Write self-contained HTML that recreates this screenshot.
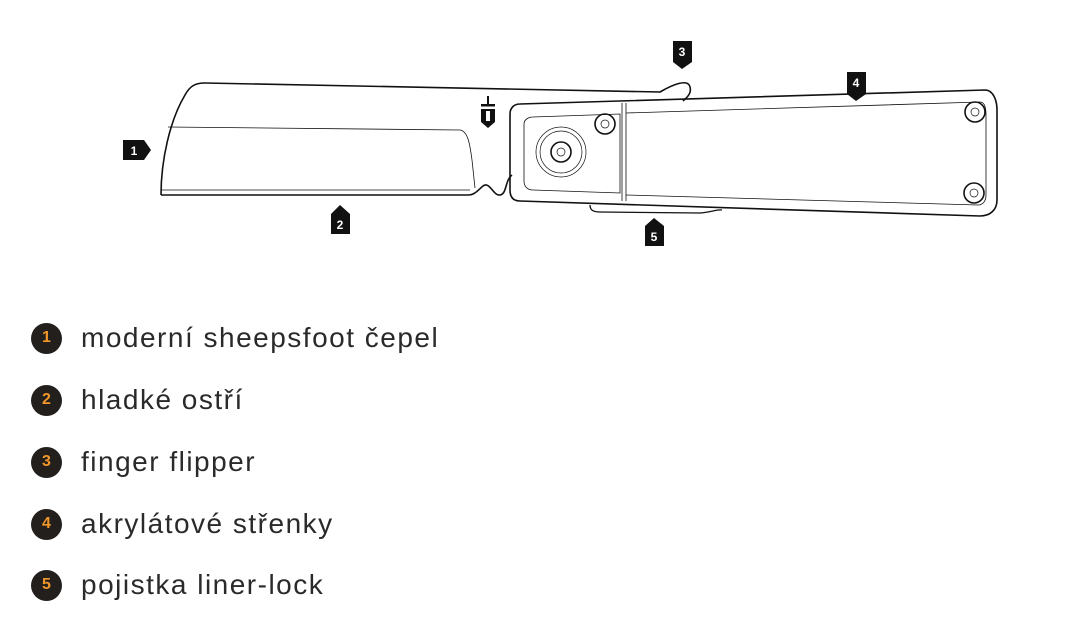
<!DOCTYPE html>
<html><head><meta charset="utf-8"><style>
html,body{margin:0;padding:0;background:#fff;width:1073px;height:635px;overflow:hidden}
.li{position:absolute;left:31px;height:32px;display:flex;align-items:center;font-family:"Liberation Sans",sans-serif}
.c{width:31px;height:31px;border-radius:50%;background:#231f1c;color:#f0962a;font-weight:bold;font-size:16px;display:flex;align-items:center;justify-content:center}
.t{margin-left:19px;font-size:28px;color:#2a2a2a;letter-spacing:1.5px}
</style></head><body>
<svg width="1073" height="300" style="position:absolute;left:0;top:0" fill="none" stroke="#111" stroke-width="1.6">
<path d="M161,195 C161,160 170,120 185,95 C190,86 195,83 205,83 L660,92 C672,85 688,78 690,87 C692,94 686,98 683,101"/>
<path d="M161,195 L468,195 C475,195 478,190 483,186 C490,181 493,196 500,195 C507,194 505,180 512,175"/>
<path d="M168,127 L460,130 C468,131 470,145 472,160 L475,188" stroke-width="0.8"/>
<path d="M161,190 L470,190" stroke-width="0.8"/>
<path d="M520,104 L985,90 C993,90 997,100 997,110 L997,200 C997,210 990,216 980,216 L520,201 C513,201 510,197 510,190 L510,114 C510,108 514,104 520,104 Z"/>
<path d="M533,117 L620,114 L620,193 L533,190 C527,190 524,186 524,181 L524,124 C524,120 528,117 533,117 Z" stroke-width="0.8"/>
<path d="M622,103 L622,201 M626,103 L626,201" stroke-width="0.8"/>
<path d="M626,113 L980,102 C985,102 986,108 986,115 L986,195 C986,202 982,205 978,205 L626,195" stroke-width="0.8"/>
<circle cx="561" cy="152" r="25" stroke-width="0.7"/>
<circle cx="561" cy="152" r="21" stroke-width="0.7"/>
<circle cx="561" cy="152" r="10"/>
<circle cx="561" cy="152" r="4" stroke-width="0.7"/>
<circle cx="605" cy="124" r="10"/><circle cx="605" cy="124" r="4" stroke-width="0.7"/>
<circle cx="975" cy="112" r="10"/><circle cx="975" cy="112" r="4" stroke-width="0.7"/>
<circle cx="974" cy="193" r="10"/><circle cx="974" cy="193" r="4" stroke-width="0.7"/>
<path d="M590,205 C590,210 593,212 600,212 L700,213 C712,212 718,209 722,210" stroke-width="1.3"/>
<g stroke="none" fill="#111">
<rect x="487" y="96" width="2" height="8"/>
<rect x="481" y="104" width="14" height="2.5"/>
<path d="M481,109 L495,109 L495,122 L488,128 L481,122 Z"/>
<rect x="486" y="111" width="4" height="10" fill="#fff"/>
</g>
<g stroke="none" fill="#111">
<path d="M123,140 L144,140 L151,150 L144,160 L123,160 Z"/>
<path d="M331,214 L340,205 L350,214 L350,234 L331,234 Z"/>
<path d="M673,41 L692,41 L692,62 L682,69 L673,62 Z"/>
<path d="M847,72 L866,72 L866,94 L856,101 L847,94 Z"/>
<path d="M645,226 L654,218 L664,226 L664,246 L645,246 Z"/>
</g>
<g fill="#fff" stroke="none" font-family="Liberation Sans,sans-serif" font-weight="bold" font-size="12" text-anchor="middle">
<text x="134" y="155">1</text><text x="340" y="229">2</text><text x="682" y="56">3</text><text x="856" y="87">4</text><text x="654" y="241">5</text>
</g>
</svg>
<div class="li" style="top:322px"><div class="c">1</div><div class="t">moderní sheepsfoot čepel</div></div>
<div class="li" style="top:384px"><div class="c">2</div><div class="t">hladké ostří</div></div>
<div class="li" style="top:446px"><div class="c">3</div><div class="t">finger flipper</div></div>
<div class="li" style="top:508px"><div class="c">4</div><div class="t">akrylátové střenky</div></div>
<div class="li" style="top:569px"><div class="c">5</div><div class="t">pojistka liner-lock</div></div>
</body></html>
